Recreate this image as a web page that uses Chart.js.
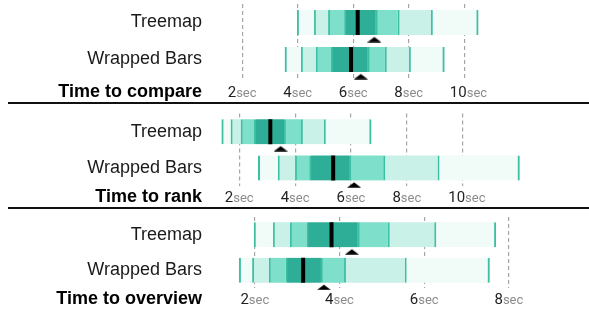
<!DOCTYPE html>
<html>
<head>
<meta charset="utf-8">
<script src="https://cdn.jsdelivr.net/npm/chart.js@4.4.1/dist/chart.umd.min.js"></script>
<style>
  html, body { margin: 0; padding: 0; background: #fff; }
  #wrap { position: relative; width: 589px; height: 310px; overflow: hidden; }
  canvas { position: absolute; left: 0; }
  .rule { position: absolute; left: 8px; width: 581px; height: 2px; background: #111; }
</style>
</head>
<body>
<div id="wrap">
  <canvas id="c-compare" width="589" height="102" style="top:0"></canvas>
  <div class="rule" style="top:102px"></div>
  <canvas id="c-rank" width="589" height="103" style="top:104px"></canvas>
  <div class="rule" style="top:207px"></div>
  <canvas id="c-overview" width="589" height="101" style="top:209px"></canvas>
</div>
<script>
// 행 이름 / 패널 제목
const rows = ['Treemap', 'Wrapped Bars'];
const titles = ['Time to compare', 'Time to rank', 'Time to overview'];

// x축 눈금 (초)
const compareTicks = [2, 4, 6, 8, 10];
const rankTicks = [2, 4, 6, 8, 10];
const overviewTicks = [2, 4, 6, 8];

// 구간 경계 (초): 시작, 경계 3개, 중앙값, 경계 3개, 끝
const compareTreemap = [3.98, 4.59, 5.10, 5.68, 6.16, 6.81, 7.60, 8.80, 10.50];
const compareWrapped = [3.54, 4.12, 4.65, 5.20, 5.92, 6.52, 7.14, 8.01, 9.28];
const rankTreemap = [1.37, 1.69, 2.05, 2.53, 3.11, 3.60, 4.21, 5.03, 6.72];
const rankWrapped = [2.68, 3.38, 4.00, 4.51, 5.36, 5.94, 7.16, 9.10, 12.03];
const overviewTreemap = [1.98, 2.43, 2.83, 3.22, 3.81, 4.43, 5.14, 6.24, 7.69];
const overviewWrapped = [1.63, 1.94, 2.33, 2.73, 3.14, 3.56, 4.11, 5.54, 7.54];

// 평균 (삼각형 마커)
const compareMeans = [6.76, 6.27];
const rankMeans = [3.48, 6.11];
const overviewMeans = [4.29, 3.63];

// 색상
const bandColors = ['#f1fbf8', '#c9f1e7', '#7edfca', '#2fae97', '#2fae97', '#7edfca', '#c9f1e7', '#f1fbf8'];
const edgeColor = '#3dbfa3';

// 평균 표시용 납작한 삼각형 (막대 아래에 오도록 캔버스 아래쪽에 그림)
function makeTriangle() {
    const c = document.createElement('canvas');
    c.width = 14;
    c.height = 40;
    const g = c.getContext('2d');
    g.fillStyle = '#000';
    g.beginPath();
    g.moveTo(7, 34.6);
    g.lineTo(14, 39.8);
    g.lineTo(0, 39.8);
    g.closePath();
    g.fill();
    return c;
}
const triangle = makeTriangle();

// x축 라벨 + 패널 제목
const axisText = {
    id: 'axisText',
    afterDraw(chart, args, opts) {
        const ctx = chart.ctx;
        const sx = chart.scales.x;
        ctx.save();
        ctx.textBaseline = 'alphabetic';
        ctx.textAlign = 'right';
        ctx.font = 'bold 18px "Liberation Sans", Arial, sans-serif';
        ctx.fillStyle = '#000';
        ctx.fillText(opts.title, 202, opts.baseline);
        ctx.textAlign = 'left';
        sx.ticks.forEach(t => {
            const x = sx.getPixelForValue(t.value) - 14.5;
            const num = String(t.value);
            ctx.font = '15px Roboto, sans-serif';
            ctx.fillStyle = '#222';
            ctx.fillText(num, x, opts.baseline);
            const w = ctx.measureText(num).width;
            ctx.font = '13px Roboto, sans-serif';
            ctx.fillStyle = '#8c8c8c';
            ctx.fillText('sec', x + w, opts.baseline);
        });
        ctx.restore();
    }
};

function bandDatasets(bands) {
    return bandColors.map((color, k) => ({
        type: 'bar',
        data: bands.map(b => [b[k], b[k + 1]]),
        backgroundColor: color,
        borderColor: edgeColor,
        borderWidth: { left: 2, right: k === bandColors.length - 1 ? 2 : 0, top: 0, bottom: 0 },
        borderSkipped: false,
        grouped: false,
        barThickness: 25
    }));
}

function createPanel(p) {
    const medianSet = {
        type: 'scatter',
        data: p.bands.map((b, i) => ({ x: b[4], y: rows[i] })),
        pointStyle: 'line',
        pointRotation: 90,
        pointRadius: 12.5,
        pointBorderWidth: 4,
        pointBorderColor: '#000',
        pointBackgroundColor: '#000'
    };
    const meanSet = {
        type: 'scatter',
        data: p.means.map((m, i) => ({ x: m, y: rows[i] })),
        pointStyle: triangle,
        pointRadius: 5
    };

    return new Chart(document.getElementById(p.id), {
        type: 'bar',
        data: {
            labels: rows,
            datasets: [medianSet, meanSet].concat(bandDatasets(p.bands))
        },
        plugins: [axisText],
        options: {
            indexAxis: 'y',
            responsive: false,
            animation: false,
            events: [],
            layout: {
                autoPadding: false,
                padding: { top: p.padTop, bottom: p.padBottom, left: 0, right: 0 }
            },
            plugins: {
                legend: { display: false },
                tooltip: { enabled: false },
                axisText: { title: p.title, baseline: p.baseline }
            },
            scales: {
                x: {
                    type: 'linear',
                    min: p.min,
                    max: p.max,
                    afterBuildTicks: s => { s.ticks = p.ticks.map(v => ({ value: v })); },
                    afterFit: s => { s.height = 0; s.paddingLeft = 0; s.paddingRight = 0; },
                    ticks: { display: false },
                    grid: { color: '#a6a6a6', lineWidth: 1.2, drawTicks: false, borderDash: [4, 3] },
                    border: { display: false, dash: [4, 3] }
                },
                y: {
                    type: 'category',
                    offset: true,
                    afterFit: s => { s.width = 210; s.paddingTop = 0; s.paddingBottom = 0; },
                    grid: { display: false, drawTicks: false },
                    border: { display: false },
                    ticks: {
                        padding: 8,
                        color: '#1a1a1a',
                        font: { family: '"Liberation Sans", Arial, sans-serif', size: 18 }
                    }
                }
            }
        }
    });
}

createPanel({ id: 'c-compare', title: titles[0], ticks: compareTicks,
    bands: [compareTreemap, compareWrapped], means: compareMeans,
    min: 0.84, max: 14.49, padTop: 4, padBottom: 24, baseline: 96.5 });
createPanel({ id: 'c-rank', title: titles[1], ticks: rankTicks,
    bands: [rankTreemap, rankWrapped], means: rankMeans,
    min: 0.95, max: 14.52, padTop: 9.5, padBottom: 21, baseline: 97.5 });
createPanel({ id: 'c-overview', title: titles[2], ticks: overviewTicks,
    bands: [overviewTreemap, overviewWrapped], means: overviewMeans,
    min: 0.94, max: 9.89, padTop: 8, padBottom: 22, baseline: 94.5 });
</script>
</body>
</html>
